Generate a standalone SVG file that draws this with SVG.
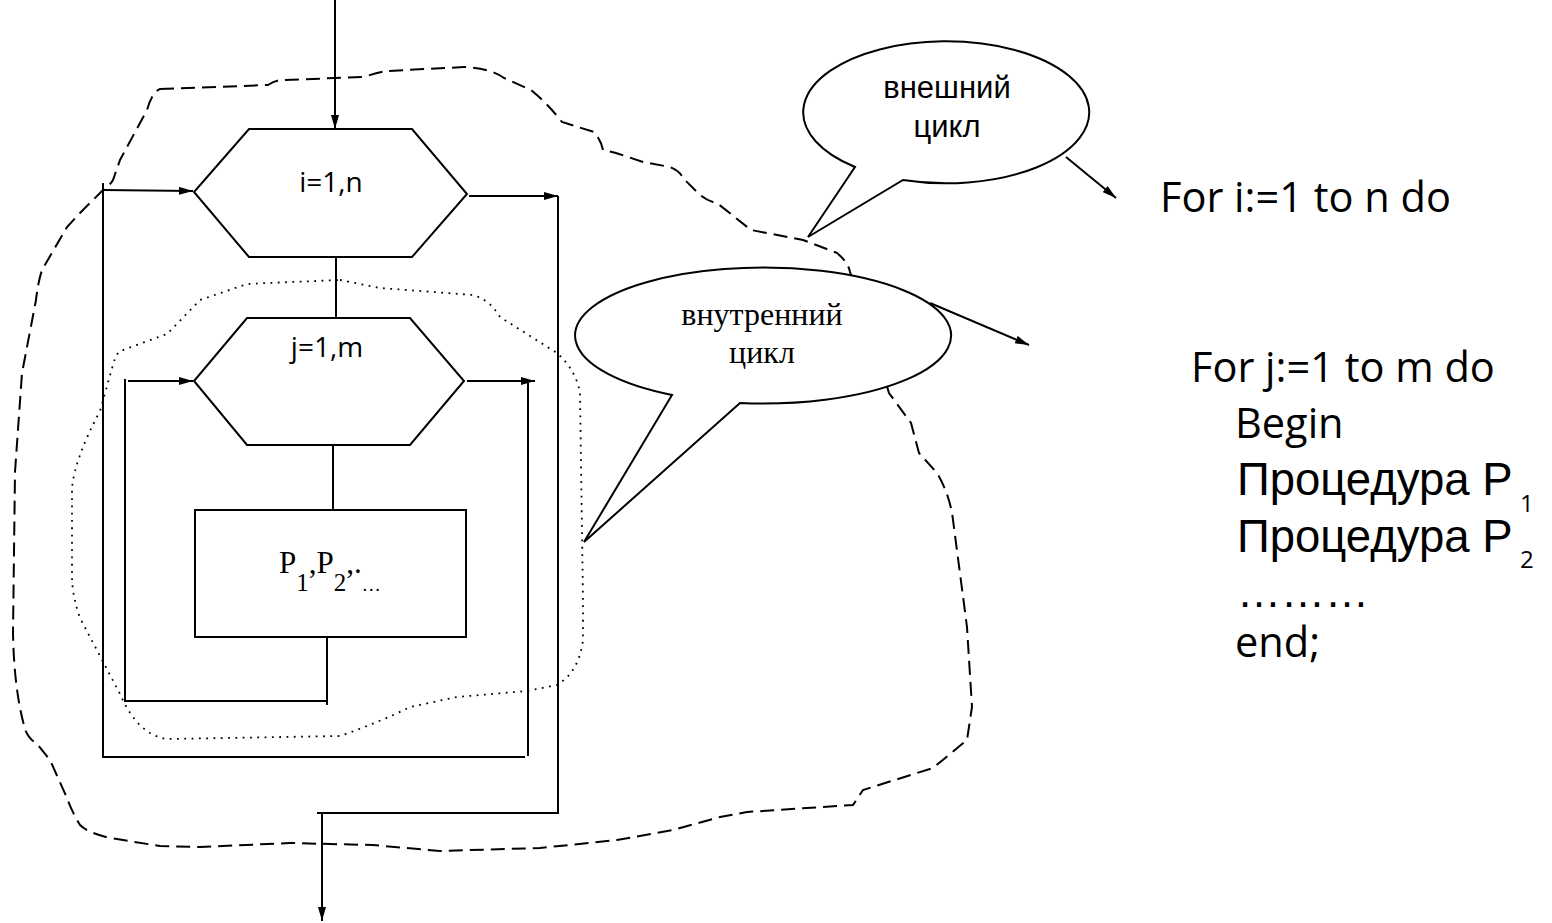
<svg xmlns="http://www.w3.org/2000/svg" width="1552" height="923" viewBox="0 0 1552 923">
<style>
.ln{fill:none;stroke:#000;stroke-width:2}
.shape{fill:#fff;stroke:#000;stroke-width:2}
.dash{fill:none;stroke:#000;stroke-width:2;stroke-dasharray:14 7}
.dot{fill:none;stroke:#000;stroke-width:1.8;stroke-dasharray:1.8 5.5}
.cal{font-family:"Open Sans","DejaVu Sans",sans-serif;fill:#000}
.ar{font-family:"Liberation Sans",Arial,sans-serif;fill:#000}
.tm{font-family:"Liberation Serif","Times New Roman",serif;fill:#000}
</style>
<defs>
<marker id="arr" viewBox="0 0 14 8" refX="14" refY="4" markerWidth="14" markerHeight="8" markerUnits="userSpaceOnUse" orient="auto">
<path d="M0,0 L14,4 L0,8 Z" fill="#000"/>
</marker>
</defs>
<rect width="1552" height="923" fill="#fff"/>

<g id="outer-loop-region">
<path class="dash" d="M160,89 L268,85 Q276,80 283,80 L364,77 Q378,72 388,71 L464,67 Q490,68 504,78 L531,90 Q548,104 562,122 L594,132 Q601,140 603,150 L616,153 L643,162 L670,167 Q680,171 683,178 L698,193 Q706,201 717,203 L751,230 L803,240 L837,253 Q848,262 850,272 L870,330 L889,393 L911,423 L919,453 L937,473 Q950,495 953,520 L967,627 L972,707 L967,740 L933,768 L863,790 L853,805 L747,812 L720,817 L673,830 L617,840 L540,848 L440,851 L373,845 L290,843 L200,847 L160,846 L110,838 Q88,833 80,825 Q72,812 67,798 L50,760 Q42,750 37,744 Q28,738 25,729 Q14,690 13,633 L15,472 L22,373 L36,300 Q38,282 42,270 L67,227 L80,213 L105,188 Q111,184 113,180 L120,160 L147,110 Q152,92 160,89 Z"/>
</g>

<g id="inner-loop-region">
<path class="dot" d="M340,280 L380,288 L473,295 Q490,300 500,317 L557,353 Q576,370 580,393 L583,600 L583,640 Q579,672 557,685 L527,691 L457,697 L410,707 Q380,722 340,736 L167,739 Q138,735 120,694 L80,618 Q72,595 72,576 L72,488 Q75,458 100,411 L113,365 Q117,350 123,350 L167,334 L200,300 L247,284 L267,283 Z"/>
</g>

<g id="connectors">
<line class="ln" x1="335" y1="0" x2="335" y2="129" marker-end="url(#arr)"/>
<path class="ln" d="M103,183 L103,757 L525,757"/>
<line class="ln" x1="103" y1="190" x2="193" y2="191" marker-end="url(#arr)"/>
<line class="ln" x1="469" y1="196" x2="558" y2="196" marker-end="url(#arr)"/>
<path class="ln" d="M558,196 L558,813 L317,813"/>
<line class="ln" x1="322" y1="813" x2="322" y2="921" marker-end="url(#arr)"/>
<line class="ln" x1="336" y1="257" x2="336" y2="318"/>
<line class="ln" x1="333" y1="445" x2="333" y2="510"/>
<path class="ln" d="M125,379 L125,701 L327,701"/>
<line class="ln" x1="327" y1="636" x2="327" y2="705"/>
<line class="ln" x1="128" y1="381" x2="193" y2="381" marker-end="url(#arr)"/>
<line class="ln" x1="467" y1="381" x2="535" y2="381" marker-end="url(#arr)"/>
<line class="ln" x1="528" y1="383" x2="528" y2="756"/>
<line class="ln" x1="1066" y1="157" x2="1116" y2="198" marker-end="url(#arr)"/>
<line class="ln" x1="930" y1="303" x2="1029" y2="345" marker-end="url(#arr)"/>
</g>

<g id="hex-outer">
<polygon class="shape" points="249,129 412,129 467,194 412,257 249,257 194,192"/>
<text class="cal" x="331" y="192" font-size="28" text-anchor="middle">i=1,n</text>
</g>

<g id="hex-inner">
<polygon class="shape" points="247,318 410,318 464,381 410,445 247,445 194,381"/>
<text class="cal" x="327" y="357" font-size="28" text-anchor="middle">j=1,m</text>
</g>

<g id="proc-box">
<rect class="shape" x="195" y="510" width="271" height="127"/>
<text class="tm" x="279" y="573" font-size="31">P<tspan font-size="25" dy="18">1</tspan><tspan dy="-18">,P</tspan><tspan font-size="25" dy="18">2</tspan><tspan dy="-18">,.</tspan><tspan font-size="19" dy="18">…</tspan></text>
</g>

<g id="callout-outer">
<path class="shape" d="M855,167 A143 71 0 1 1 903,180 L808,237 Z"/>
<text class="ar" x="947" y="98" font-size="31" text-anchor="middle">внешний</text>
<text class="ar" x="947" y="137" font-size="31" text-anchor="middle">цикл</text>
</g>

<g id="callout-inner">
<path class="shape" d="M672,395 A188 68 0 1 1 740,403 L584,542 Z"/>
<text class="tm" x="762" y="325" font-size="32" text-anchor="middle">внутренний</text>
<text class="tm" x="762" y="363" font-size="32" text-anchor="middle">цикл</text>
</g>

<g id="code">
<text class="cal" x="1160" y="212" font-size="41.5">For i:=1 to n do</text>
<text class="cal" x="1191" y="382" font-size="41.5">For j:=1 to m do</text>
<text class="cal" x="1235" y="438" font-size="41.5">Begin</text>
<text class="ar" x="1237" y="495" font-size="45.5">Процедура P</text>
<text class="cal" x="1520" y="512" font-size="24">1</text>
<text class="ar" x="1237" y="552" font-size="45.5">Процедура P</text>
<text class="cal" x="1520" y="568" font-size="24">2</text>
<text class="ar" x="1237" y="607" font-size="44">………</text>
<text class="cal" x="1235" y="657" font-size="41.5">end;</text>
</g>
</svg>
